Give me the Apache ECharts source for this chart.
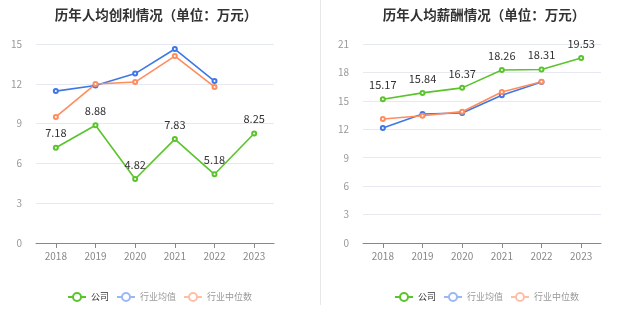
<!DOCTYPE html>
<html><head><meta charset="utf-8">
<script src="https://cdn.jsdelivr.net/npm/echarts@6/dist/echarts.min.js"></script>
<style>html,body{margin:0;padding:0;background:#fff}#c{width:637px;height:327px}</style>
</head><body><div id="c"></div>
<script>
const years = ['2018','2019','2020','2021','2022','2023'];
const profitCompany = [7.18, 8.88, 4.82, 7.83, 5.18, 8.25];
const profitMean = [11.45, 11.87, 12.77, 14.62, 12.21, null];
const profitMedian = [9.5, 11.98, 12.13, 14.09, 11.76, null];
const salaryCompany = [15.17, 15.84, 16.37, 18.26, 18.31, 19.53];
const salaryMean = [12.14, 13.61, 13.72, 15.6, 17.0, null];
const salaryMedian = [13.09, 13.43, 13.86, 15.94, 17.02, null];
const names = ['公司', '行业均值', '行业中位数'];

const cGreen = '#5ac42c', cBlue = '#3f77e6', cOrange = '#ff8c5e';
const font = '"Noto Sans CJK SC", "Noto Sans", sans-serif';

function xAxis(i){
  return {type:'category', gridIndex:i, data:years, boundaryGap:true,
    axisLine:{lineStyle:{color:'#888'}}, axisTick:{show:true, alignWithLabel:true, lineStyle:{color:'#888'}},
    axisLabel:{color:'#888', fontSize:10, fontFamily:font, margin:8}};
}
function yAxis(i, max){
  return {type:'value', gridIndex:i, min:0, max:max, interval:3,
    axisLine:{show:false}, axisTick:{show:false},
    splitLine:{lineStyle:{color:'#e6e9f2'}},
    axisLabel:{color:'#999', fontSize:10, fontFamily:font, margin:14}};
}
function series(name, data, color, i, label){
  return {name:name, type:'line', xAxisIndex:i, yAxisIndex:i, data:data,
    symbol:'emptyCircle', symbolSize:4, showSymbol:true,
    lineStyle:{color:color, width:1.6}, itemStyle:{color:color, borderWidth:1.5},
    label:{show:label, position:'top', color:'#333', fontSize:11, fontFamily:font, distance:6}};
}
function legend(center){
  return {left:center, top:287, itemWidth:18, itemHeight:10, itemGap:7,
    textStyle:{fontSize:9, fontFamily:font, color:'#999'},
    data:[
      {name:names[0], itemStyle:{color:cGreen, borderColor:cGreen, borderWidth:1.5}, lineStyle:{color:cGreen, width:2}, textStyle:{color:'#333'}},
      {name:names[1], itemStyle:{color:'#9ab9f4', borderColor:'#9ab9f4', borderWidth:1.5}, lineStyle:{color:'#9ab9f4', width:2}},
      {name:names[2], itemStyle:{color:'#ffbfa7', borderColor:'#ffbfa7', borderWidth:1.5}, lineStyle:{color:'#ffbfa7', width:2}}
    ]};
}

const chart = echarts.init(document.getElementById('c'));
chart.setOption({
  animation:false,
  title:[
    {text:'历年人均创利情况（单位：万元）', left:151, top:3, textAlign:'center',
      textStyle:{fontSize:13.5, fontWeight:'bold', color:'#333', fontFamily:font}},
    {text:'历年人均薪酬情况（单位：万元）', left:479, top:3, textAlign:'center',
      textStyle:{fontSize:13.5, fontWeight:'bold', color:'#333', fontFamily:font}}
  ],
  legend:[legend(62), legend(389)],
  grid:[
    {left:36, top:44, width:238, height:199},
    {left:363, top:44, width:238, height:199}
  ],
  xAxis:[xAxis(0), xAxis(1)],
  yAxis:[yAxis(0,15), yAxis(1,21)],
  series:[
    series(names[0], profitCompany, cGreen, 0, true),
    series(names[1], profitMean, cBlue, 0, false),
    series(names[2], profitMedian, cOrange, 0, false),
    series(names[0], salaryCompany, cGreen, 1, true),
    series(names[1], salaryMean, cBlue, 1, false),
    series(names[2], salaryMedian, cOrange, 1, false)
  ],
  graphic:[{type:'line', shape:{x1:320.5, y1:0, x2:320.5, y2:305}, style:{stroke:'#e8e8e8', lineWidth:1}}]
});
</script></body></html>
